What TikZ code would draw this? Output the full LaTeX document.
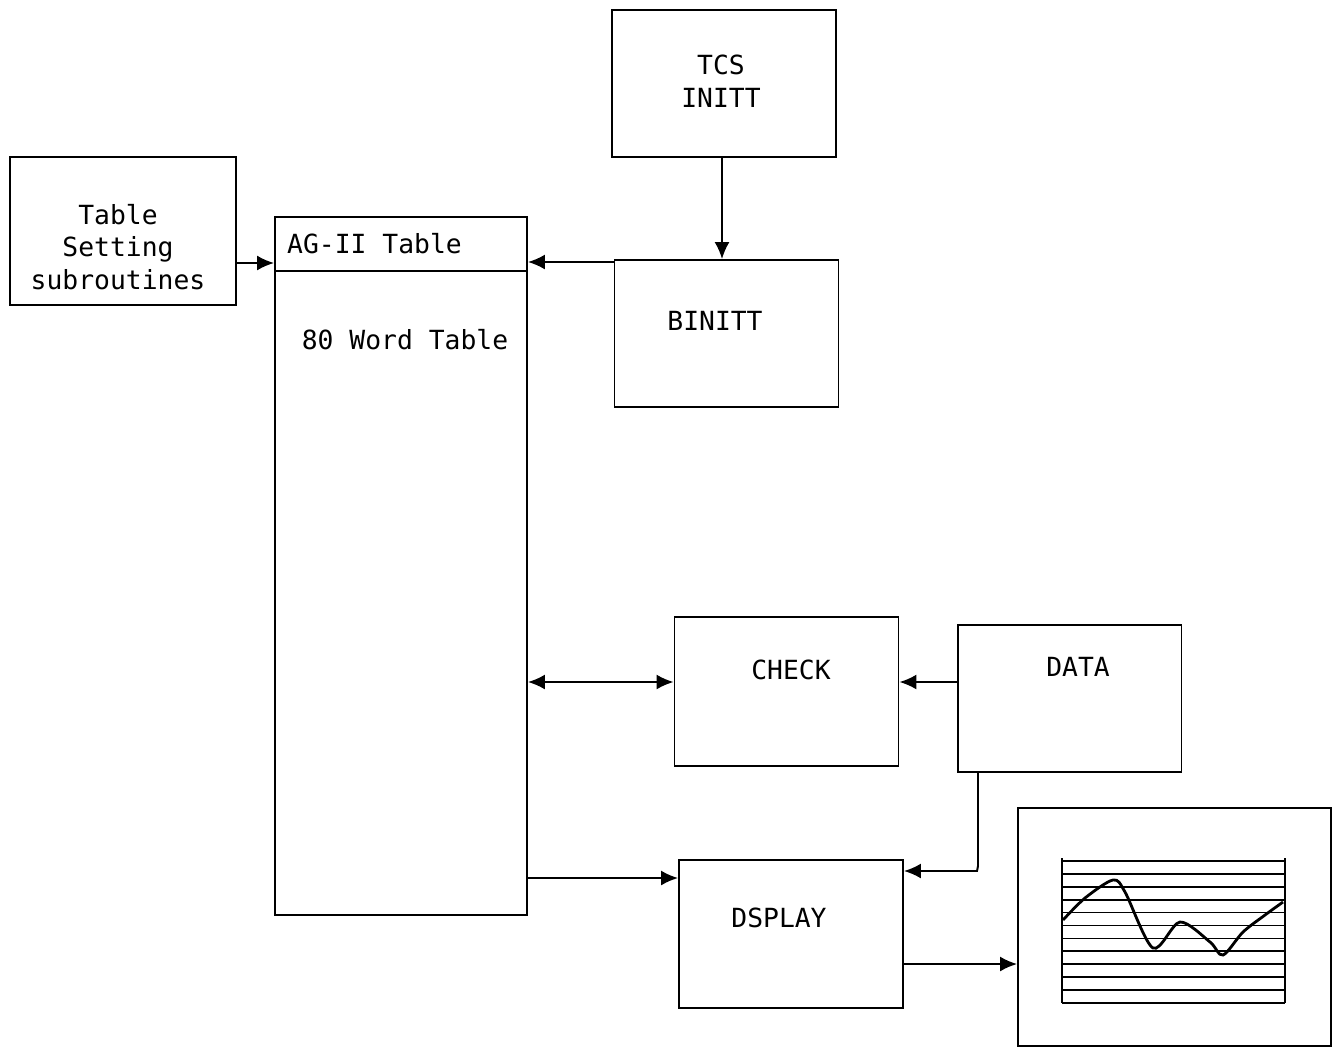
\documentclass[tikz,border=0pt]{standalone}
\usepackage{fontspec}
\setmonofont{DejaVu Sans Mono}
\usetikzlibrary{shapes,arrows,arrows.meta,positioning,calc}
\tikzstyle{block} = [draw, rectangle, line width=1.1pt, inner sep=0pt, minimum width=4.48cm, minimum height=2.94cm]
\tikzstyle{txt} = [font=\ttfamily\fontsize{15}{18.5}\selectfont, align=center]
\tikzstyle{link} = [line width=1.1pt]

\begin{document}
\begin{tikzpicture}[x=0.02cm, y=-0.02cm, >={Latex[length=0.34cm,width=0.3cm]}]
    \useasboundingbox (0,0) rectangle (1338,1049);
    % Blocks
    \node [block, minimum width=4.52cm, minimum height=2.96cm] (tset) at (123,231) {};
    \node [block, minimum width=5.04cm, minimum height=13.96cm] (ag) at (401,566) {};
    \node [block] (tcs) at (724,83.5) {};
    \node [block] (binitt) at (726.5,333.5) {};
    \node [block, minimum height=2.98cm] (check) at (786.5,691.5) {};
    \node [block] (data) at (1069.5,698.5) {};
    \node [block, minimum height=2.96cm] (dsp) at (791,934) {};
    \node [block, minimum width=6.26cm, minimum height=4.76cm] (screen) at (1174.5,927) {};
    \draw [link] (ag.west |- 0,271) -- (ag.east |- 0,271);

    % Texts
    \node [txt] (tsettxt) at (118,247) {Table\\Setting\\subroutines};
    \node [txt, anchor=west] (agtxt) at (281,244) {AG-II Table};
    \node [txt] (wordtxt) at (405,340) {80 Word Table};
    \node [txt] (tcstxt) at (721,81) {TCS\\INITT};
    \node [txt] (binitttxt) at (715,321) {BINITT};
    \node [txt] (checktxt) at (791,670) {CHECK};
    \node [txt] (datatxt) at (1078,667) {DATA};
    \node [txt] (dsptxt) at (779,918) {DSPLAY};

    % Connections
    \draw [link, ->] (tset.east |- 0,263) -- (ag.west |- 0,263);
    \draw [link, ->] (binitt.west |- 0,262) -- (ag.east |- 0,262);
    \draw [link, ->] (tcs.south -| 722,0) -- (binitt.north -| 722,0);
    \draw [link, <->] (ag.east |- 0,682) -- (check.west |- 0,682);
    \draw [link, ->] (data.west |- 0,682) -- (check.east |- 0,682);
    \draw [link, ->] (ag.east |- 0,878) -- (dsp.west |- 0,878);
    \draw [link, ->] (data.south -| 978,0) -- (978,866) -- (977,871) -- (dsp.east |- 0,871);
    \draw [link, ->] (dsp.east |- 0,964) -- (screen.west |- 0,964);

    % Chart on screen
    \foreach \k in {0,...,11}
        \draw [line width=1pt] (1062,861+12.9*\k) -- (1285,861+12.9*\k);
    \draw [line width=1pt] (1062,858) -- (1062,1003);
    \draw [line width=1pt] (1285,858) -- (1285,1003);
    \draw [line width=1.6pt] plot [smooth, tension=0.5] coordinates {(1063,920) (1085,898) (1113,880) (1125,892) (1153,948) (1180,922) (1210,942) (1223,955) (1243,932) (1265,915) (1283,902)};
\end{tikzpicture}
\end{document}
